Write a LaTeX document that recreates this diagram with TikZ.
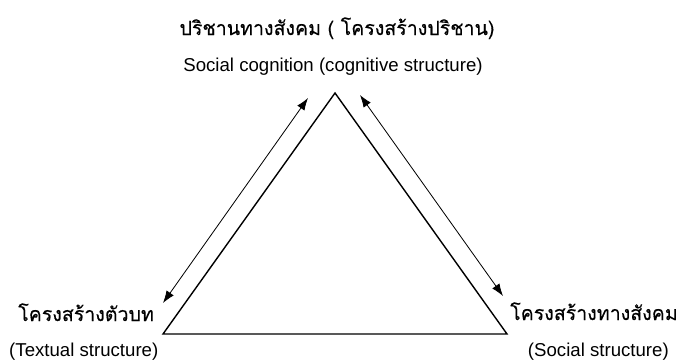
\documentclass[tikz,border=0pt]{standalone}
\usepackage{fontspec}
\setmainfont{Liberation Sans}
\newfontfamily\thaifont[Script=Thai, FakeBold=0.4]{Loma}
\usetikzlibrary{arrows.meta}

\tikzset{
  thaitext/.style={inner sep=0pt, font=\thaifont\fontsize{16.7}{20}\selectfont},
  engtext/.style={inner sep=0pt, font=\fontsize{15.9}{19}\selectfont},
  side/.style={line width=1.2pt, line join=miter},
  link/.style={<->, line width=0.7pt}
}

\begin{document}
\begin{tikzpicture}[x=0.03cm, y=-0.03cm, >={Latex[length=10.5pt, width=7.5pt]}]
    \useasboundingbox (0,0) rectangle (680,360);

    % labels
    \node[thaitext, anchor=base] (cogth) at (337,35) {ปริชานทางสังคม ( โครงสร้างปริชาน)};
    \node[engtext, anchor=base] (cogen) at (333,71) {Social cognition (cognitive structure)};
    \node[thaitext, anchor=base west] (textth) at (18,321) {โครงสร้างตัวบท};
    \node[engtext, anchor=base west] (texten) at (9,356) {(Textual structure)};
    \node[thaitext, anchor=base east] (socth) at (678,320) {โครงสร้างทางสังคม};
    \node[engtext, anchor=base east] (socen) at (669,356) {(Social structure)};

    % triangle
    \coordinate (top) at (335,93);
    \coordinate (lft) at (163,334);
    \coordinate (rgt) at (507,334);
    \draw[side] (lft) -- (top) -- (rgt) -- cycle;

    % two-way arrows
    \coordinate (la) at (308,98);
    \coordinate (lb) at (163,303);
    \coordinate (ra) at (360,95);
    \coordinate (rb) at (503,296);
    \draw[link] (la) -- (lb);
    \draw[link] (ra) -- (rb);
\end{tikzpicture}
\end{document}
